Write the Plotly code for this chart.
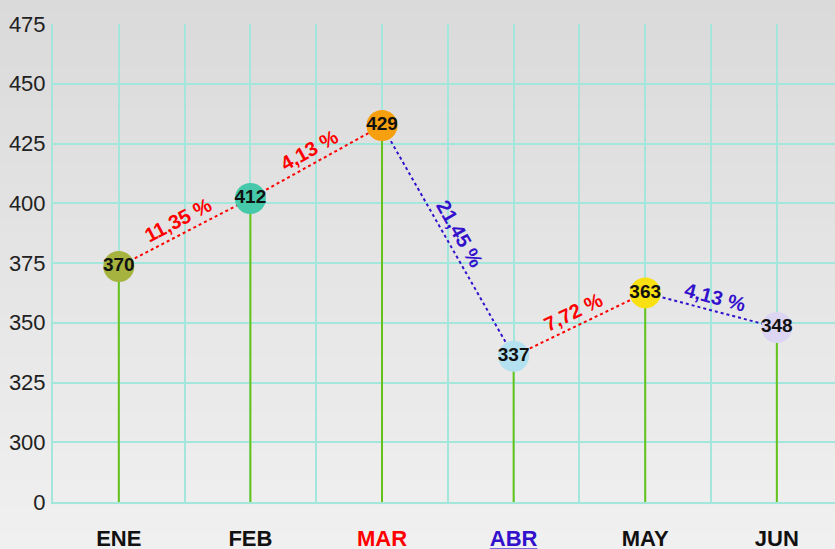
import math
import plotly.graph_objects as go

# ---- data ----
months = ["ENE", "FEB", "MAR", "ABR", "MAY", "JUN"]
month_label_colors = ["#111111", "#111111", "#ff0000", "#3311cc", "#111111", "#111111"]
month_underline = [False, False, False, True, False, False]
plot_positions = [373.5, 402, 432.5, 336, 362.5, 348]   # where the bubbles sit
value_labels = [370, 412, 429, 337, 363, 348]           # numbers written in bubbles
bubble_colors = ["#a6b33e", "#45c9aa", "#f6a010", "#b4e1f0", "#f8e012", "#dcd6f2"]
y_tick_vals = [275, 300, 325, 350, 375, 400, 425, 450, 475]
y_tick_text = ["0", "300", "325", "350", "375", "400", "425", "450", "475"]

UP_COLOR = "#ff0000"
DOWN_COLOR = "#3311cc"
GRID = "#a3e6dc"
STEM = "#66c21a"

W, H = 835, 549
ML, MR, MT, MB = 53, 0, 24, 47
XR = [-0.5, 5.442]
YR = [275, 475]
sx = (W - ML - MR) / (XR[1] - XR[0])
sy = (H - MT - MB) / (YR[1] - YR[0])

xs = list(range(len(months)))
fig = go.Figure()

# background gradient bands
n_bands = 40
top_c, bot_c = (218, 218, 218), (240, 240, 240)
y_top = 1 + MT / (H - MT - MB)
y_bot = -MB / (H - MT - MB)
for i in range(n_bands):
    t = i / (n_bands - 1)
    c = tuple(int(round(top_c[k] + (bot_c[k] - top_c[k]) * t)) for k in range(3))
    y1 = y_top - (y_top - y_bot) * i / n_bands
    y0 = y_top - (y_top - y_bot) * (i + 1) / n_bands
    fig.add_shape(type="rect", xref="paper", yref="paper",
                  x0=-ML / (W - ML - MR) - 0.01, x1=1.01, y0=y0 - 0.002, y1=y1 + 0.002,
                  fillcolor="rgb(%d,%d,%d)" % c, line_width=0, layer="below")

# stems
stem_x, stem_y = [], []
for x, v in zip(xs, plot_positions):
    stem_x += [x, x, None]
    stem_y += [v, YR[0], None]
fig.add_trace(go.Scatter(x=stem_x, y=stem_y, mode="lines",
                         line=dict(color=STEM, width=2), hoverinfo="skip", showlegend=False))

# connecting dotted segments + percentage labels
for i in range(len(xs) - 1):
    a, b = value_labels[i], value_labels[i + 1]
    col = UP_COLOR if b >= a else DOWN_COLOR
    fig.add_trace(go.Scatter(x=[xs[i], xs[i + 1]], y=[plot_positions[i], plot_positions[i + 1]],
                             mode="lines", line=dict(color=col, width=2, dash="dot"),
                             hoverinfo="skip", showlegend=False))
    pct = abs(b - a) / a * 100
    txt = ("%.2f" % pct).replace(".", ",") + " %"
    sdx = (xs[i + 1] - xs[i]) * sx
    sdy = -(plot_positions[i + 1] - plot_positions[i]) * sy
    ang = math.degrees(math.atan2(sdy, sdx))
    L = math.hypot(sdx, sdy)
    off = 14
    nx, ny = sdy / L * off, -sdx / L * off
    fig.add_annotation(x=(xs[i] + xs[i + 1]) / 2,
                       y=(plot_positions[i] + plot_positions[i + 1]) / 2,
                       text="<b>%s</b>" % txt, showarrow=False, textangle=ang,
                       xshift=nx, yshift=-ny,
                       font=dict(family="Arial, Liberation Sans", size=20, color=col))

# bubbles
fig.add_trace(go.Scatter(x=xs, y=plot_positions, mode="markers+text",
                         marker=dict(size=31, color=bubble_colors, line=dict(width=0), opacity=1),
                         text=["<b>%d</b>" % v for v in value_labels],
                         textposition="middle center",
                         textfont=dict(family="Arial, Liberation Sans", size=19, color="#111111"),
                         hoverinfo="skip", showlegend=False))

tick_text = []
for m, c, u in zip(months, month_label_colors, month_underline):
    s = "<b>%s</b>" % m
    if u:
        s = "<u>%s</u>" % s
    tick_text.append("<span style='color:%s'>%s</span>" % (c, s))

fig.update_layout(
    width=W, height=H,
    margin=dict(l=ML, r=MR, t=MT, b=MB, pad=0, autoexpand=False),
    paper_bgcolor="#e6e6e6", plot_bgcolor="rgba(0,0,0,0)",
    showlegend=False,
    font=dict(family="Arial, Liberation Sans", color="#222222"),
    xaxis=dict(range=XR, tickvals=xs, ticktext=tick_text, showgrid=True, automargin=False,
               gridcolor=GRID, gridwidth=2, zeroline=False,
               showline=True, linecolor=GRID, linewidth=2,
               ticks="", ticklabelstandoff=16,
               tickfont=dict(family="Arial, Liberation Sans", size=22, color="#111111"),
               minor=dict(tickvals=[x - 0.5 for x in xs] + [xs[-1] + 0.5],
                          showgrid=True, gridcolor=GRID, gridwidth=2)),
    yaxis=dict(range=YR, tickvals=y_tick_vals, ticktext=y_tick_text, showgrid=True, automargin=False,
               gridcolor=GRID, gridwidth=2, zeroline=False,
               showline=True, linecolor=GRID, linewidth=2,
               ticks="", ticklabelstandoff=1,
               tickfont=dict(family="Arial, Liberation Sans", size=22, color="#222222")),
)

fig.write_html("out.html", config={"displayModeBar": False, "staticPlot": True},
               post_script="document.body.style.margin='0';document.body.style.overflow='hidden';")
